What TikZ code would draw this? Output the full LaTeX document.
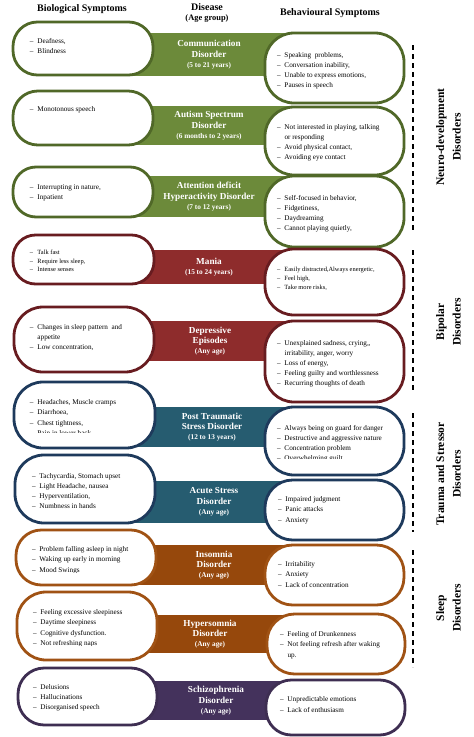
\documentclass[tikz,border=0pt]{standalone}
\usepackage{fontspec}
\setmainfont{Liberation Serif}
\definecolor{gD}{RGB}{80,104,40}
\definecolor{gB}{RGB}{108,138,58}
\definecolor{rD}{RGB}{104,28,32}
\definecolor{rB}{RGB}{142,44,44}
\definecolor{tD}{RGB}{30,58,92}
\definecolor{tB}{RGB}{38,92,112}
\definecolor{sD}{RGB}{160,82,20}
\definecolor{sB}{RGB}{150,72,12}
\definecolor{pD}{RGB}{62,46,82}
\definecolor{pB}{RGB}{68,50,92}
\newcommand\bandfont{\fontsize{9.2}{10.8}\selectfont\bfseries}
\newcommand\agef{\fontsize{7.3}{9}\selectfont}
\newcommand\dsh{\makebox[7.5pt][l]{–}}
\newcommand\cnt{\hspace*{7.5pt}}
\tikzset{
 pillst/.style={draw, line width=2.8pt, fill=white, inner sep=0pt, outer sep=0pt},
 bandst/.style={inner sep=0pt, outer sep=0pt, text=white, align=center, font=\bandfont},
 btxt/.style={inner sep=0pt, outer sep=0pt, font=\fontsize{7.2}{9}\selectfont},
 smalltxt/.style={font=\fontsize{6.4}{8}\selectfont},
 hdr/.style={font=\fontsize{10}{12}\selectfont\bfseries, inner sep=0pt},
 grp/.style={rotate=90, align=center, font=\fontsize{11.5}{16.5}\selectfont\bfseries, inner sep=0pt},
 sepline/.style={line width=1.6pt, dash pattern=on 5pt off 4pt},
}
\newcommand\mypill[6]{%
 \pgfmathsetmacro\pcx{(#3+#5)/2}%
 \pgfmathsetmacro\pcy{(#4+#6)/2}%
 \pgfmathsetmacro\pw{#5-#3}%
 \pgfmathsetmacro\ph{#6-#4}%
 \pgfmathsetmacro\prad{min(0.46*\ph,29)}%
 \node[pillst, draw=#2, rounded corners=\prad pt, minimum width=\pw pt, minimum height=\ph pt] (#1) at (\pcx,\pcy) {};}
\newcommand\myband[6]{%
 \pgfmathsetmacro\pcy{(#4+#5)/2}%
 \pgfmathsetmacro\ph{#5-#4}%
 \node[bandst, fill=#2, minimum width=180pt, minimum height=\ph pt] (#1) at (#3,\pcy) {#6};}
\newcommand\mylist[6][]{%
 \foreach \t [count=\i from 0] in {#6} {\node[btxt,#1,anchor=base west] (#2-\i) at (#3, #4+#5*\i) {\t};}}
\begin{document}
\begin{tikzpicture}[x=1pt,y=-1pt]
\path[use as bounding box, fill=white] (0,0) rectangle (474,737);
% headers
\node[hdr, anchor=base] (h1) at (82,11) {Biological Symptoms};
\node[hdr, anchor=base] (h2) at (207,10.5) {Disease};
\node[hdr, anchor=base, font=\fontsize{8.4}{10}\selectfont\bfseries] (h3) at (207,20) {(Age group)};
\node[hdr, anchor=base] (h4) at (330,15.5) {Behavioural Symptoms};
% row 1
\myband{B1}{gB}{209}{33}{76}{Communication\\Disorder\\[-1pt]\agef(5 to 21 years)}
\mypill{L1}{gD}{13}{22}{153}{75}
\mypill{R1}{gD}{265}{33}{404}{103}
\mylist{TL1}{30}{43.5}{10}{{\dsh Deafness,},{\dsh Blindness}}
\mylist{TR1}{277}{57.5}{10}{{\dsh Speaking\ \ problems,},{\dsh Conversation inability,},{\dsh Unable to express emotions,},{\dsh Pauses in speech}}
% row 2
\myband{B2}{gB}{209}{106}{145}{Autism Spectrum\\Disorder\\[-1pt]\agef(6 months to 2 years)}
\mypill{L2}{gD}{13}{91}{153}{145}
\mypill{R2}{gD}{265}{107}{404}{175}
\mylist{TL2}{30}{111.5}{10}{{\dsh Monotonous speech}}
\begin{scope}
\clip (0,0) rectangle (474,160);
\mylist{TR2}{277}{129.5}{10}{{\dsh Not interested in playing, talking},{\cnt or responding},{\dsh Avoid physical contact,},{\dsh Avoiding eye contact}}
\end{scope}
% row 3
\myband{B3}{gB}{209}{176}{217}{Attention deficit\\Hyperactivity Disorder\\[-1pt]\agef(7 to 12 years)}
\mypill{L3}{gD}{13}{167}{153}{217}
\mypill{R3}{gD}{265}{176}{404}{247}
\mylist{TL3}{30}{189.5}{9.5}{{\dsh Interrupting in nature,},{\dsh Inpatient}}
\mylist{TR3}{277}{200.5}{10}{{\dsh Self-focused in behavior,},{\dsh Fidgetiness,},{\dsh Daydreaming},{\dsh Cannot playing quietly,}}
% row 4
\myband{B4}{rB}{209}{250}{284}{Mania\\[-1pt]\agef(15 to 24 years)}
\mypill{L4}{rD}{13}{235}{154}{284}
\mypill{R4}{rD}{265}{249}{404}{315}
\mylist[smalltxt]{TL4}{30}{254.5}{8.7}{{\dsh Talk fast},{\dsh Require less sleep,},{\dsh Intense senses}}
\mylist[smalltxt]{TR4}{277}{271.5}{9}{{\dsh Easily distracted,Always energetic,},{\dsh Feel high,},{\dsh Take more risks,}}
% row 5
\myband{B5}{rB}{210}{321}{361}{Depressive\\Episodes\\[-1pt]\agef(Any age)}
\mypill{L5}{rD}{14}{307}{154}{372}
\mypill{R5}{rD}{265}{321}{404}{402}
\mylist{TL5}{30}{329.5}{10}{{\dsh Changes in sleep pattern\ \ and},{\cnt appetite},{\dsh Low concentration,}}
\mylist{TR5}{277}{345.5}{10}{{\dsh Unexplained sadness, crying,,},{\cnt irritability, anger, worry},{\dsh Loss of energy,},{\dsh Feeling guilty and worthlessness},{\dsh Recurring thoughts of death}}
% row 6
\myband{B6}{tB}{212}{407}{447}{Post Traumatic\\Stress Disorder\\[-1pt]\agef(12 to 13 years)}
\mypill{L6}{tD}{14}{382}{155}{448}
\mypill{R6}{tD}{265}{407}{404}{475}
\begin{scope}
\clip (0,0) rectangle (474,432.5);
\mylist{TL6}{30}{404.5}{10.3}{{\dsh Headaches, Muscle cramps},{\dsh Diarrhoea,},{\dsh Chest tightness,},{\dsh Pain in lower back}}
\end{scope}
\begin{scope}
\clip (0,0) rectangle (474,458.5);
\mylist{TR6}{277}{430.5}{10}{{\dsh Always being on guard for danger},{\dsh Destructive and aggressive nature},{\dsh Concentration problem},{\dsh Overwhelming guilt}}
\end{scope}
% row 7
\myband{B7}{tB}{214}{481}{523}{Acute Stress\\Disorder\\[-1pt]\agef(Any age)}
\mypill{L7}{tD}{15}{455}{155}{523}
\mypill{R7}{tD}{265}{480}{404}{540}
\begin{scope}
\clip (0,0) rectangle (474,508);
\mylist{TL7}{32}{478.5}{10}{{\dsh Tachycardia, Stomach upset},{\dsh Light Headache, nausea},{\dsh Hyperventilation,},{\dsh Numbness in hands}}
\end{scope}
\mylist{TR7}{278}{501.5}{10.3}{{\dsh Impaired judgment},{\dsh Panic attacks},{\dsh Anxiety}}
% row 8
\myband{B8}{sB}{214}{545}{585}{Insomnia\\Disorder\\[-1pt]\agef(Any age)}
\mypill{L8}{sD}{16}{530}{156}{585}
\mypill{R8}{sD}{265}{545}{404}{605}
\begin{scope}
\clip (0,0) rectangle (474,572.5);
\mylist{TL8}{32}{551.5}{10.3}{{\dsh Problem falling asleep in night},{\dsh Waking up early in morning},{\dsh Mood Swings}}
\end{scope}
\mylist{TR8}{278}{566.5}{10.3}{{\dsh Irritability},{\dsh Anxiety},{\dsh Lack of concentration}}
% row 9
\myband{B9}{sB}{210}{615}{653}{Hypersomnia\\Disorder\\[-1pt]\agef(Any age)}
\mypill{L9}{sD}{17}{592}{157}{660}
\mypill{R9}{sD}{267}{614}{405}{674}
\begin{scope}
\clip (0,0) rectangle (474,645.5);
\mylist{TL9}{33}{614.5}{10.3}{{\dsh Feeling excessive sleepiness},{\dsh Daytime sleepiness},{\dsh Cognitive dysfunction.},{\dsh Not refreshing naps}}
\end{scope}
\mylist{TR9}{280}{636.5}{10.3}{{\dsh Feeling of Drunkenness},{\dsh Not feeling refresh after waking},{\cnt up.}}
% row 10
\myband{B10}{pB}{216}{681}{720}{Schizophrenia\\Disorder\\[-1pt]\agef(Any age)}
\mypill{L10}{pD}{18}{668}{157}{725}
\mypill{R10}{pD}{266}{680}{405}{735}
\mylist{TL10}{33}{689.5}{10}{{\dsh Delusions},{\dsh Hallucinations},{\dsh Disorganised speech}}
\mylist{TR10}{280}{701.5}{10.5}{{\dsh Unpredictable emotions},{\dsh Lack of enthusiasm}}
% separators
\coordinate (s1a) at (413,45);  \coordinate (s1b) at (413,230);
\coordinate (s2a) at (413,250); \coordinate (s2b) at (413,390);
\coordinate (s3a) at (413,413); \coordinate (s3b) at (413,532);
\coordinate (s4a) at (413,550); \coordinate (s4b) at (413,667);
\draw[sepline] (s1a) -- (s1b);
\draw[sepline] (s2a) -- (s2b);
\draw[sepline] (s3a) -- (s3b);
\draw[sepline] (s4a) -- (s4b);
% group labels
\node[grp] (g1) at (448.5,137) {Neuro-development\\Disorders};
\node[grp] (g2) at (448.5,322) {Bipolar\\Disorders};
\node[grp] (g3) at (448.5,474) {Trauma and Stressor\\Disorders};
\node[grp] (g4) at (448.5,608) {Sleep\\Disorders};
\end{tikzpicture}
\end{document}
